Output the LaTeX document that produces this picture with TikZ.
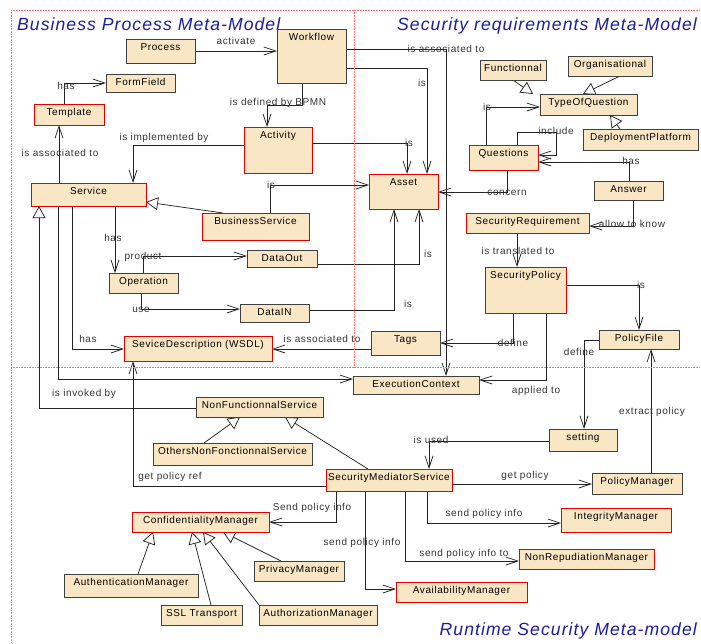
\documentclass[tikz,border=0pt]{standalone}
\usepackage{fontspec}
\setmainfont{Liberation Sans}[LetterSpace=6]
\usetikzlibrary{arrows.meta,calc,backgrounds}

\definecolor{boxfill}{RGB}{248,230,196}
\definecolor{ttl}{RGB}{28,28,160}
\definecolor{lnk}{RGB}{35,35,35}

\tikzset{
 box/.style={draw=black!75, fill=boxfill, line width=0.9pt, inner sep=0pt, outer sep=0pt},
 rbox/.style={box, draw=red!90!black},
 boxtxt/.style={font=\fontsize{10}{12}\selectfont, text=black, inner sep=0pt, anchor=base},
 lbl/.style={font=\fontsize{10}{12}\selectfont, text=black!80, inner sep=0pt, anchor=base},
 assoc/.style={draw=lnk, line width=0.75pt, -{Straight Barb[length=12pt,width=8pt,line width=0.75pt]}},
 gen/.style={draw=lnk, line width=0.75pt, -{Triangle[open,length=12pt,width=13pt,line width=0.75pt,fill=white]}},
 region/.style={draw=red!55, densely dotted, line width=0.6pt},
 ttlstyle/.style={font=\fontsize{17.6}{20}\selectfont\itshape, text=ttl, inner sep=0pt}
}

\newcommand\ubox[7]{%
 \node[#1, anchor=north west, minimum width={(#5-#3)*1pt}, minimum height={(#6-#4)*1pt}] (#2) at (#3,#4) {};
 \node[boxtxt] (#2t) at ({(#3+#5)/2},{#4+11.5}) {#7};}
\newcommand\lab[4]{\node[lbl] (#1) at (#2,{#3+3.6}) {#4};}

\begin{document}
\begin{tikzpicture}[x=1pt,y=-1pt]
\useasboundingbox (0,0) rectangle (701,643);

% regions
\draw[region] (11,10) -- (701,10);
\draw[region] (11,10) -- (11,643);
\draw[region] (354,10) -- (354,367);
\draw[region] (11,367) -- (701,367);

% titles
\node[ttlstyle, anchor=base west] (t1) at (17,30) {Business Process Meta-Model};
\node[ttlstyle, anchor=base east] (t2) at (697,30) {Security requirements Meta-Model};
\node[ttlstyle, anchor=base east] (t3) at (697,635) {Runtime Security Meta-model};

% boxes
\ubox{box}{proc}{126}{39}{195}{63}{Process}
\ubox{box}{wf}{277}{29}{346}{83}{Workflow}
\ubox{box}{ff}{106}{74}{175}{92}{FormField}
\ubox{rbox}{tpl}{34}{104}{104}{125}{Template}
\ubox{rbox}{act}{244}{127}{312}{173}{Activity}
\ubox{rbox}{svc}{31}{183}{146}{206}{Service}
\ubox{rbox}{bs}{202}{213}{309}{240}{BusinessService}
\ubox{box}{op}{109}{273}{178}{293}{Operation}
\ubox{box}{dout}{247}{250}{317}{267}{DataOut}
\ubox{box}{din}{240}{304}{309}{322}{DataIN}
\ubox{rbox}{sd}{124}{336}{272}{361}{SeviceDescription (WSDL)}
\ubox{rbox}{asset}{369}{174}{438}{209}{Asset}
\ubox{box}{func}{480}{60}{546}{80}{Functionnal}
\ubox{box}{org}{568}{56}{652}{76}{Organisational}
\ubox{box}{toq}{540}{94}{637}{115}{TypeOfQuestion}
\ubox{box}{dp}{583}{129}{698}{150}{DeploymentPlatform}
\ubox{rbox}{q}{469}{145}{538}{170}{Questions}
\ubox{box}{ans}{594}{181}{663}{200}{Answer}
\ubox{rbox}{sr}{466}{213}{589}{233}{SecurityRequirement}
\ubox{rbox}{sp}{485}{267}{566}{313}{SecurityPolicy}
\ubox{box}{pf}{599}{330}{679}{349}{PolicyFile}
\ubox{box}{tags}{371}{331}{440}{355}{Tags}
\ubox{box}{ec}{353}{376}{479}{394}{ExecutionContext}
\ubox{box}{set}{549}{429}{617}{451}{setting}
\ubox{box}{pm}{592}{473}{682}{494}{PolicyManager}
\ubox{box}{nfs}{196}{397}{323}{417}{NonFunctionnalService}
\ubox{box}{onfs}{153}{443}{312}{465}{OthersNonFonctionnalService}
\ubox{rbox}{sms}{326}{469}{452}{491}{SecurityMediatorService}
\ubox{rbox}{cm}{132}{512}{269}{532}{ConfidentialityManager}
\ubox{box}{aum}{64}{574}{198}{597}{AuthenticationManager}
\ubox{box}{ssl}{161}{605}{242}{625}{SSL Transport}
\ubox{box}{azm}{259}{605}{377}{625}{AuthorizationManager}
\ubox{box}{prm}{254}{561}{344}{581}{PrivacyManager}
\ubox{rbox}{im}{561}{508}{671}{532}{IntegrityManager}
\ubox{rbox}{nrm}{519}{549}{654}{569}{NonRepudiationManager}
\ubox{rbox}{avm}{396}{582}{527}{602}{AvailabilityManager}

% connectors (behind the boxes)
\begin{pgfonlayer}{background}
\draw[assoc] (proc.east) -- (proc.east -| wf.west);
\draw[assoc] (64,0 |- tpl.north) |- (ff.west);
\draw[assoc] (302,0 |- wf.south) |- (267,105) -- (267,0 |- act.north);
\draw[assoc] (act.west |- 0,145) -| (133,0 |- svc.north);
\draw[assoc] (59,0 |- svc.north) -- (59,0 |- tpl.south);
\draw[assoc] (wf.east |- 0,49) -| (446,0 |- ec.north);
\draw[assoc] (wf.east |- 0,68) -| (427,0 |- asset.north);
\draw[assoc] (act.east |- 0,143) -| (407,0 |- asset.north);
\draw[assoc] (270,0 |- bs.north) |- (asset.west |- 0,185);
\draw[gen] (223,0 |- bs.north) -- (svc.east |- 0,202);
\draw[assoc] (115,0 |- svc.south) -- (115,0 |- op.north);
\draw[assoc] (143,0 |- op.north) |- (dout.west |- 0,256);
\draw[assoc] (141,0 |- op.south) |- (din.west |- 0,309);
\draw[assoc] (dout.east |- 0,264) -| (419,0 |- asset.south);
\draw[assoc] (din.east |- 0,310) -| (394,0 |- asset.south);
\draw[assoc] (72,0 |- svc.south) |- (sd.west |- 0,349);
\draw[assoc] (tags.west |- 0,349) -- (sd.east |- 0,349);
\draw[assoc] (58,0 |- svc.south) |- (ec.west |- 0,379);
\draw[gen] (nfs.west |- 0,408) -| (39,0 |- svc.south);
\draw[assoc] (507,0 |- q.south) |- (asset.east |- 0,192);
\draw[gen] (513,0 |- func.south) -- (533,0 |- toq.north);
\draw[gen] (620,0 |- org.south) -- (583,0 |- toq.north);
\draw[gen] (620,0 |- dp.north) -- (610,0 |- toq.south);
\draw[assoc] (486,0 |- q.north) |- (toq.west |- 0,107);
\draw[assoc] (517,0 |- q.north) |- (556,132) |- (q.east |- 0,155);
\draw[assoc] (629,0 |- ans.north) |- (q.east |- 0,162);
\draw[assoc] (633,0 |- ans.south) |- (sr.east |- 0,226);
\draw[assoc] (517,0 |- sr.south) -- (517,0 |- sp.north);
\draw[assoc] (sp.east |- 0,285) -| (639,0 |- pf.north);
\draw[assoc] (513,0 |- sp.south) |- (tags.east |- 0,343);
\draw[assoc] (546,0 |- sp.south) |- (ec.east |- 0,380);
\draw[assoc] (pf.west |- 0,340) -| (584,0 |- set.north);
\draw[assoc] (set.west |- 0,441) -| (429,0 |- sms.north);
\draw[assoc] (651,0 |- pm.north) -- (651,0 |- pf.south);
\draw[assoc] (sms.east |- 0,484) -- (pm.west |- 0,484);
\draw[gen] (368,0 |- sms.north) -- (285,0 |- nfs.south);
\draw[gen] (204,0 |- onfs.north) -- (240,0 |- nfs.south);
\draw[assoc] (sms.west |- 0,486) -| (133,0 |- sd.south);
\draw[assoc] (336,0 |- sms.south) |- (cm.east |- 0,522);
\draw[assoc] (427,0 |- sms.south) |- (im.west |- 0,523);
\draw[assoc] (405,0 |- sms.south) |- (nrm.west |- 0,561);
\draw[assoc] (365,0 |- sms.south) |- (avm.west |- 0,589);
\draw[gen] (138,0 |- aum.north) -- (153,0 |- cm.south);
\draw[gen] (211,0 |- ssl.north) -- (192,0 |- cm.south);
\draw[gen] (azm.north west) -- (203,0 |- cm.south);
\draw[gen] (281,0 |- prm.north) -- (223,0 |- cm.south);
\end{pgfonlayer}

% labels
\lab{l1}{236}{41}{activate}
\lab{l2}{66}{86}{has}
\lab{l3}{278}{102}{is defined by BPMN}
\lab{l4}{164}{137}{is implemented by}
\lab{l5}{60}{153}{is associated to}
\lab{l6}{446}{49}{is associated to}
\lab{l7}{422}{83}{is}
\lab{l8}{409}{143}{is}
\lab{l9}{271}{185}{is}
\lab{l10}{113}{238}{has}
\lab{l11}{143}{256}{product}
\lab{l12}{141}{309}{use}
\lab{l13}{428}{254}{is}
\lab{l14}{408}{304}{is}
\lab{l15}{88}{339}{has}
\lab{l16}{322}{339}{is associated to}
\lab{l17}{84}{393}{is invoked by}
\lab{l18}{507}{192}{concern}
\lab{l19}{487}{107}{is}
\lab{l20}{556}{131}{include}
\lab{l21}{631}{161}{has}
\lab{l22}{632}{224}{allow to know}
\lab{l23}{518}{251}{is translated to}
\lab{l24}{641}{285}{is}
\lab{l25}{513}{343}{define}
\lab{l26}{536}{390}{applied to}
\lab{l27}{579}{352}{define}
\lab{l28}{431}{440}{is used}
\lab{l29}{652}{411}{extract policy}
\lab{l30}{525}{475}{get policy}
\lab{l31}{170}{476}{get policy ref}
\lab{l32}{312}{507}{Send policy info}
\lab{l33}{484}{513}{send policy info}
\lab{l34}{464}{553}{send policy info to}
\lab{l35}{362}{542}{send policy info}
\end{tikzpicture}
\end{document}
